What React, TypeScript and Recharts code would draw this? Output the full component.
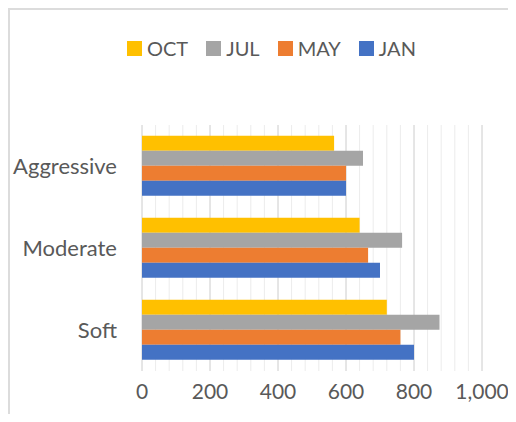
import React from 'react';
import { BarChart, Bar, XAxis, YAxis, CartesianGrid } from 'recharts';

const categories = ['Aggressive', 'Moderate', 'Soft'];
const octValues = [565, 640, 720];
const julValues = [650, 765, 875];
const mayValues = [600, 665, 760];
const janValues = [600, 700, 800];

const xDomain = [0, 1000];
const majorTicks = [0, 200, 400, 600, 800, 1000];
const minorTicks = [
  0, 40, 80, 120, 160, 200, 240, 280, 320, 360, 400, 440, 480, 520, 560, 600,
  640, 680, 720, 760, 800, 840, 880, 920, 960, 1000,
];

const series = [
  { key: 'OCT', values: octValues, color: '#FFC000' },
  { key: 'JUL', values: julValues, color: '#A5A5A5' },
  { key: 'MAY', values: mayValues, color: '#ED7D31' },
  { key: 'JAN', values: janValues, color: '#4472C4' },
];

const data = categories.map((name, i) => {
  const row: any = { name };
  series.forEach((s) => {
    row[s.key] = s.values[i];
  });
  return row;
});

const font = 'Lato, "Liberation Sans", sans-serif';
const textColor = '#595959';

// minor gridlines: map the minor ticks through the x axis scale
const minorLines = ({ xAxis, offset }: any) => {
  const scale = xAxis && xAxis.scale;
  if (typeof scale === 'function') return minorTicks.map((t) => scale(t));
  if (scale && typeof scale.map === 'function') return minorTicks.map((t) => scale.map(t));
  if (scale && typeof scale.apply === 'function') return minorTicks.map((t) => scale.apply(t));
  const [d0, d1] = xDomain;
  return minorTicks.map((t) => offset.left + ((t - d0) / (d1 - d0)) * offset.width);
};

function App() {
  return (
    <div
      style={{
        position: 'relative',
        margin: -8,
        width: 516,
        height: 422,
        background: '#fff',
        fontFamily: font,
        overflow: 'hidden',
      }}
    >
      <div
        style={{
          position: 'absolute',
          left: 8,
          top: 8,
          right: 0,
          bottom: 0,
          borderTop: '2px solid #dcdcdc',
          borderLeft: '2px solid #dcdcdc',
        }}
      />
      <div
        style={{
          position: 'absolute',
          left: 127,
          top: 37,
          display: 'flex',
          alignItems: 'center',
          fontSize: 20,
          color: textColor,
          lineHeight: '22px',
        }}
      >
        {series.map((s) => (
          <div key={s.key} style={{ display: 'flex', alignItems: 'center', marginRight: 18 }}>
            <span
              style={{
                display: 'inline-block',
                width: 15,
                height: 15,
                background: s.color,
                marginRight: 5,
              }}
            />
            <span>{s.key}</span>
          </div>
        ))}
      </div>
      <div style={{ position: 'absolute', left: 0, top: 0 }}>
        <BarChart
          width={516}
          height={422}
          data={data}
          layout="vertical"
          margin={{ top: 125, right: 34, left: 0, bottom: 0 }}
          barCategoryGap="13%"
          barGap={0}
        >
          <CartesianGrid
            horizontal={false}
            stroke="#ececec"
            strokeWidth={1}
            verticalCoordinatesGenerator={minorLines}
          />
          <CartesianGrid horizontal={false} stroke="#d6d6d6" strokeWidth={1} />
          <XAxis
            type="number"
            domain={xDomain}
            ticks={majorTicks}
            interval={0}
            axisLine={false}
            tickLine={false}
            tickSize={0}
            tickMargin={13}
            height={51}
            tickFormatter={(v: number) => v.toLocaleString('en-US')}
            tick={{ fill: textColor, fontSize: 21, fontFamily: font }}
          />
          <YAxis
            type="category"
            dataKey="name"
            width={142}
            axisLine={false}
            tickLine={false}
            tickSize={0}
            tickMargin={25}
            tick={{ fill: textColor, fontSize: 22, fontFamily: font }}
          />
          {series.map((s) => (
            <Bar
              key={s.key}
              dataKey={s.key}
              name={s.key}
              fill={s.color}
              isAnimationActive={false}
            />
          ))}
        </BarChart>
      </div>
    </div>
  );
}

export default App;
